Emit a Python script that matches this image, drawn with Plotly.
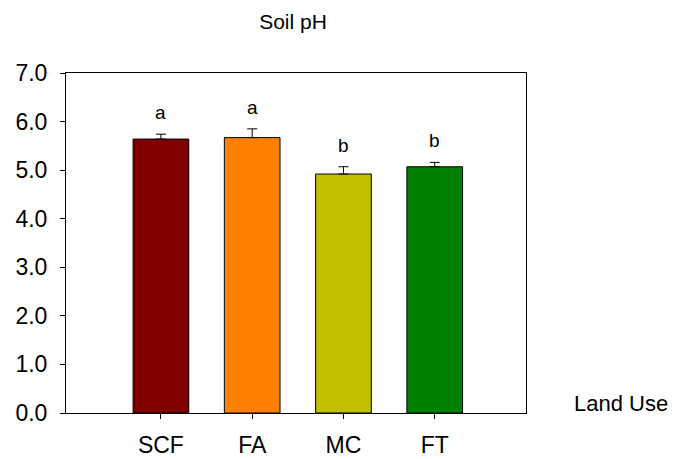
import plotly.graph_objects as go

categories = ["SCF", "FA", "MC", "FT"]
means = [5.64, 5.67, 4.92, 5.07]
errors = [0.10, 0.18, 0.15, 0.09]
letters = ["a", "a", "b", "b"]
colors = ["#800000", "#FF8000", "#C0C000", "#008000"]
ytick_vals = [0, 1, 2, 3, 4, 5, 6, 7]
ytick_text = ["0.0", "1.0", "2.0", "3.0", "4.0", "5.0", "6.0", "7.0"]

font = "Liberation Sans, Arial, sans-serif"

# page has an 8px body margin; compensate so plot sits where the reference does
W, H = 670, 451
L, T, R, B = 58, 65, 152, 46

fig = go.Figure()
fig.add_trace(go.Bar(
    x=list(range(len(categories))), y=means,
    marker=dict(color=colors, line=dict(color="black", width=1)),
    width=0.61,
    error_y=dict(type="data", array=errors, arrayminus=[0]*len(errors),
                 symmetric=False, color="black", thickness=1, width=5),
    showlegend=False,
))

for i, (m, e, l) in enumerate(zip(means, errors, letters)):
    fig.add_annotation(x=i, y=m + e, text=l, showarrow=False,
                       yanchor="bottom", yshift=9,
                       font=dict(family=font, size=19, color="black"))

pw, ph = W - L - R, H - T - B
fig.add_annotation(x=(572 - 66) / pw, y=(413 - 403) / ph, xref="paper", yref="paper",
                   text="Land Use", showarrow=False, xanchor="left", yanchor="middle",
                   font=dict(family=font, size=22, color="black"))

fig.update_layout(
    width=W, height=H,
    margin=dict(l=L, r=R, t=T, b=B),
    paper_bgcolor="white", plot_bgcolor="white",
    title=dict(text="Soil pH", x=285 / W, xanchor="center",
               y=1 - 14 / H, yanchor="middle",
               font=dict(family=font, size=21, color="black")),
    xaxis=dict(range=[-1.04, 4.0], tickmode="array",
               tickvals=list(range(len(categories))), ticktext=categories,
               ticks="outside", ticklen=5, tickcolor="black",
               showline=True, linecolor="black", linewidth=1, mirror=True,
               showgrid=False, zeroline=False, ticklabelstandoff=6,
               automargin=False,
               tickfont=dict(family=font, size=23, color="black")),
    yaxis=dict(range=[0, 7], tickmode="array", tickvals=ytick_vals, ticktext=ytick_text,
               ticks="outside", ticklen=5, tickcolor="black",
               showline=True, linecolor="black", linewidth=1, mirror=True,
               showgrid=False, zeroline=False, ticklabelstandoff=8,
               automargin=False,
               tickfont=dict(family=font, size=23, color="black")),
)

fig.write_html("out.html")
